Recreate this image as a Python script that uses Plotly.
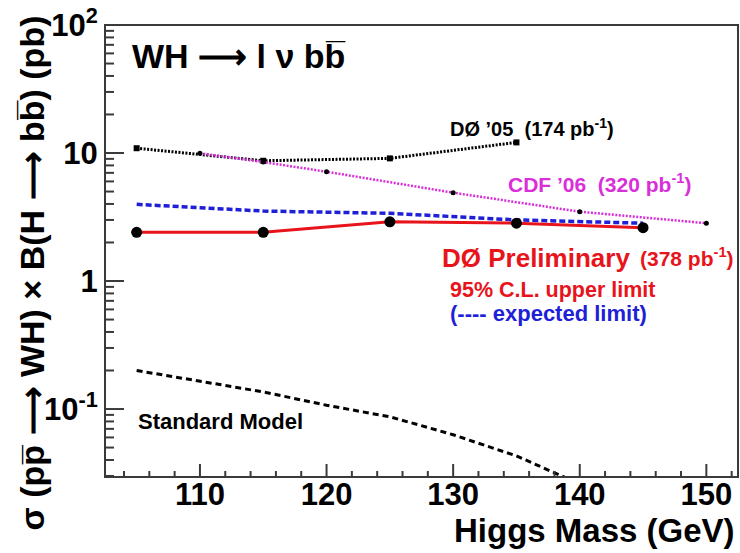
import plotly.graph_objects as go

# ---------------- data ----------------
mass_d0 = [105, 115, 125, 135, 145]
obs_limit = [2.40, 2.40, 2.90, 2.83, 2.61]
exp_limit = [3.97, 3.52, 3.38, 3.00, 2.83]

mass_d005 = [105, 115, 125, 135]
d005_limit = [10.9, 8.7, 9.08, 12.1]

mass_cdf = [110, 115, 120, 130, 140, 150]
cdf_limit = [9.96, 8.5, 7.14, 4.9, 3.48, 2.83]

mass_sm = [105, 110, 115, 120, 125, 130, 135, 140]
sm_xsec = [0.200, 0.165, 0.136, 0.107, 0.087, 0.063, 0.043, 0.026]

x_major = [110, 120, 130, 140, 150]
x_minor = [v for v in range(104, 153, 2) if v not in x_major]
y_tickvals = [0.1, 1, 10, 100]
y_ticktext = ["10<sup>-1</sup>", "1", "10", "10<sup>2</sup>"]
y_minor = [m * d for d in (0.01, 0.1, 1, 10) for m in range(2, 10) if m * d >= 0.03]

FONT = "Liberation Sans, Arial, sans-serif"
RED = "#e8141c"
MAG = "#d92fd9"
BLUE = "#1f1fd8"
AX = "#3a3a3a"

X_RANGE = [102.5, 152.5]
Y_RANGE = [-1.531, 2]

# plot area in pixels
W, H = 740, 553
L, R, T, B = 105, 2, 25, 76
PW, PH = W - L - R, H - T - B


def px(x):
    return (x - L) / PW


def py(y):
    return (H - B - y) / PH


fig = go.Figure()

fig.add_trace(go.Scatter(x=mass_d005, y=d005_limit, mode="lines+markers",
                         line=dict(color="black", width=3, dash="2px,1.5px"),
                         marker=dict(symbol="square", size=6, color="black"),
                         showlegend=False))
fig.add_trace(go.Scatter(x=mass_cdf, y=cdf_limit, mode="lines+markers",
                         line=dict(color=MAG, width=2.5, dash="2px,1.5px"),
                         marker=dict(symbol="circle", size=5, color="black"),
                         showlegend=False))
fig.add_trace(go.Scatter(x=mass_d0, y=exp_limit, mode="lines",
                         line=dict(color=BLUE, width=3.5, dash="6px,3px"),
                         showlegend=False))
fig.add_trace(go.Scatter(x=mass_d0, y=obs_limit, mode="lines+markers",
                         line=dict(color=RED, width=3),
                         marker=dict(symbol="circle", size=11, color="black"),
                         showlegend=False))
fig.add_trace(go.Scatter(x=mass_sm, y=sm_xsec, mode="lines",
                         line=dict(color="black", width=3, dash="6px,4px"),
                         showlegend=False))

# ---- axis tick marks, drawn inside the frame (lengths in pixels on hidden overlay axes) ----
tx, ty = [], []
for v in x_major + x_minor:
    tx += [v, v, None]
    ty += [0, 13 if v in x_major else 6, None]
fig.add_trace(go.Scatter(x=tx, y=ty, xaxis="x", yaxis="y2", mode="lines",
                         line=dict(color=AX, width=2), showlegend=False, hoverinfo="skip"))
sx, sy = [], []
for v in y_tickvals + y_minor:
    sx += [0, 19 if v in y_tickvals else 9, None]
    sy += [v, v, None]
fig.add_trace(go.Scatter(x=sx, y=sy, xaxis="x2", yaxis="y", mode="lines",
                         line=dict(color=AX, width=2), showlegend=False, hoverinfo="skip"))

ARROW = "\u27f6"
annotations = [
    dict(x=px(130), y=py(56), text=f"<b>WH {ARROW} l ν bb\u0305</b>", xanchor="left", yanchor="middle",
         font=dict(size=34, color="black")),
    dict(x=px(448), y=py(127), text="<b>DØ ’05  (174 pb<sup>-1</sup>)</b>", xanchor="left",
         yanchor="middle", font=dict(size=20, color="black")),
    dict(x=px(506), y=py(183), text="<b>CDF ’06  (320 pb<sup>-1</sup>)</b>", xanchor="left",
         yanchor="middle", font=dict(size=21, color=MAG)),
    dict(x=px(440), y=py(258), text="<b>DØ Preliminary</b>", xanchor="left",
         yanchor="middle", font=dict(size=26, color=RED)),
    dict(x=px(736), y=py(257), text="<b>(378 pb<sup>-1</sup>)</b>", xanchor="right",
         yanchor="middle", font=dict(size=21, color=RED)),
    dict(x=px(448), y=py(290), text="<b>95% C.L. upper limit</b>", xanchor="left",
         yanchor="middle", font=dict(size=21.5, color=RED)),
    dict(x=px(448), y=py(313), text="<b>(---- expected limit)</b>", xanchor="left",
         yanchor="middle", font=dict(size=22, color=BLUE)),
    dict(x=px(136), y=py(421), text="<b>Standard Model</b>", xanchor="left",
         yanchor="middle", font=dict(size=22, color="black")),
    dict(x=px(737), y=py(530), text="<b>Higgs Mass (GeV)</b>", xanchor="right",
         yanchor="middle", font=dict(size=33, color="black")),
    dict(x=px(31), y=py(14),
         text=f"<b>σ (pp\u0305 {ARROW} WH) × B(H {ARROW} bb\u0305) (pb)</b>",
         textangle=-90, xanchor="center", yanchor="top", font=dict(size=34, color="black")),
]
for a in annotations:
    a.update(xref="paper", yref="paper", showarrow=False)

fig.update_layout(
    width=W, height=H,
    margin=dict(l=L, r=R, t=T, b=B),
    plot_bgcolor="white",
    font=dict(family=FONT, color="black"),
    annotations=annotations,
    shapes=[dict(type="rect", xref="paper", yref="paper", x0=0, x1=1, y0=0, y1=1,
                 line=dict(color=AX, width=2), layer="above")],
    xaxis=dict(range=X_RANGE, tickvals=x_major, ticks="",
               showline=True, linecolor=AX, showgrid=False, zeroline=False,
               ticklabelstandoff=-10,
               tickfont=dict(size=31, family=FONT, color="black", weight="bold")),
    yaxis=dict(type="log", range=Y_RANGE,
               tickvals=y_tickvals, ticktext=y_ticktext, ticks="",
               showline=True, linecolor=AX, showgrid=False, zeroline=False,
               tickfont=dict(size=31, family=FONT, color="black", weight="bold")),
    xaxis2=dict(range=[0, PW], overlaying="x", anchor="y", visible=False, fixedrange=True),
    yaxis2=dict(range=[0, PH], overlaying="y", anchor="x", visible=False, fixedrange=True),
)

fig.write_html("out.html")
